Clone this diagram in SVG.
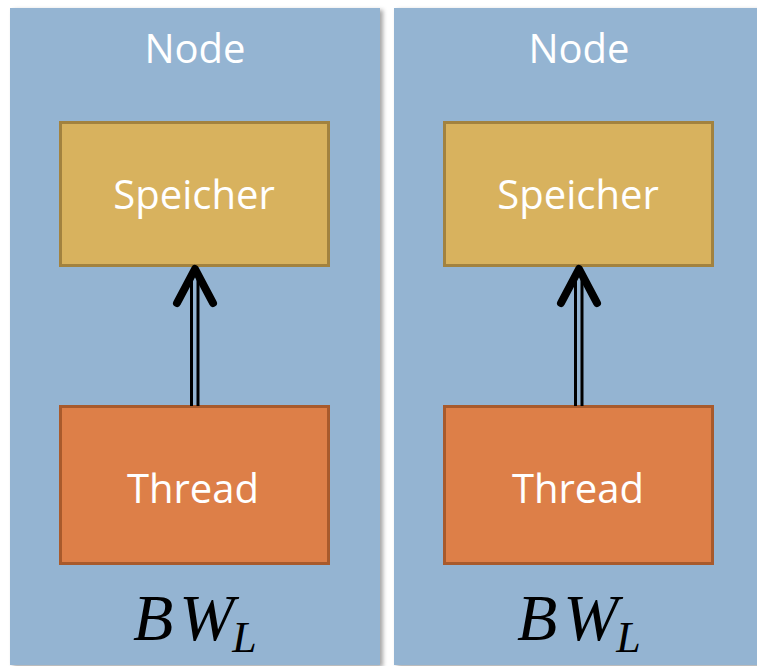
<svg xmlns="http://www.w3.org/2000/svg" width="757" height="666" viewBox="0 0 757 666">
<defs>
<filter id="sh" x="-5%" y="-5%" width="115%" height="115%">
<feDropShadow dx="3" dy="2" stdDeviation="2" flood-color="#000" flood-opacity="0.35"/>
</filter>
<style>
.panel{fill:#94b4d2;filter:url(#sh)}
.mem{fill:#d8b25e;stroke:#a2823f;stroke-width:3}
.thr{fill:#dd7f48;stroke:#a85a2c;stroke-width:3}
.lbl{font-family:"Open Sans","Lato",sans-serif;fill:#fff;text-anchor:middle;font-size:40px}
.bw{font-family:"Liberation Serif",serif;font-style:italic;fill:#000;font-size:66px}
.shaft{stroke:#000;stroke-width:3;fill:none}
.head{stroke:#000;stroke-width:8;fill:none;stroke-linecap:round;stroke-linejoin:round}
</style>
</defs>
<rect width="757" height="666" fill="#fff"/>
<g id="node1">
<rect class="panel" x="10" y="8" width="370" height="657"/>
<text class="lbl" x="195" y="63" font-size="42">Node</text>
</g>
<g id="node2">
<rect class="panel" x="394" y="8" width="370" height="657"/>
<text class="lbl" x="579" y="63" font-size="42">Node</text>
</g>
<g id="speicher1">
<rect class="mem" x="60.5" y="122.5" width="268" height="143"/>
<text class="lbl" x="194" y="209">Speicher</text>
</g>
<g id="thread1">
<rect class="thr" x="60.5" y="406.5" width="268" height="157"/>
<text class="lbl" x="193" y="503">Thread</text>
</g>
<g id="speicher2">
<rect class="mem" x="444.5" y="122.5" width="268" height="143"/>
<text class="lbl" x="578" y="209">Speicher</text>
</g>
<g id="thread2">
<rect class="thr" x="444.5" y="406.5" width="268" height="157"/>
<text class="lbl" x="578" y="503">Thread</text>
</g>
<g id="bw1"><text class="bw" x="133" y="640"><tspan letter-spacing="6">B</tspan>W<tspan font-size="44" dx="-2" dy="12">L</tspan></text></g>
<g id="bw2"><text class="bw" x="517" y="640"><tspan letter-spacing="6">B</tspan>W<tspan font-size="44" dx="-2" dy="12">L</tspan></text></g>
<g id="connectors">
<line class="shaft" x1="191.5" y1="406" x2="191.5" y2="272"/>
<line class="shaft" x1="198" y1="406" x2="198" y2="272"/>
<polyline class="head" points="177,303 195,269 213,303"/>
<line class="shaft" x1="575.5" y1="406" x2="575.5" y2="272"/>
<line class="shaft" x1="582" y1="406" x2="582" y2="272"/>
<polyline class="head" points="561,303 579,269 597,303"/>
</g>
</svg>
